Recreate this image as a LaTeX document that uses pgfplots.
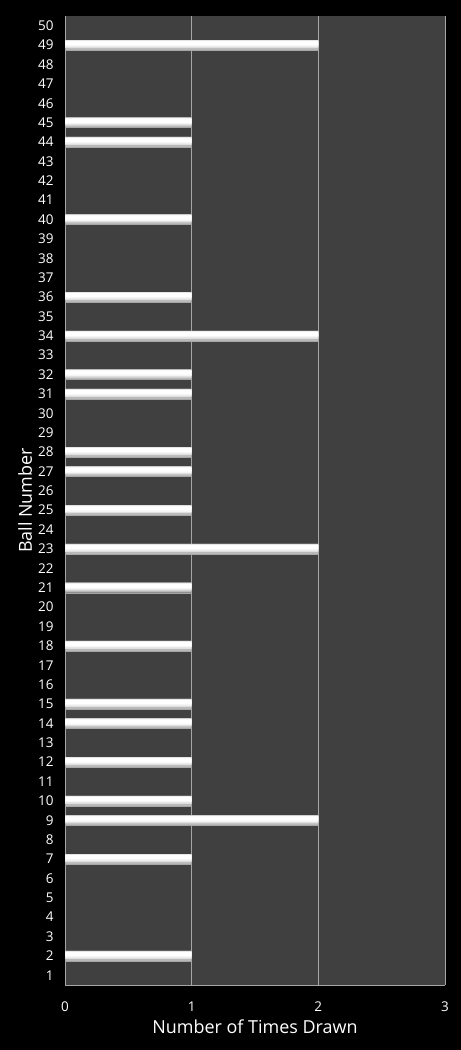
\documentclass[border=0pt]{standalone}
\usepackage{fontspec}
\setmainfont{Open Sans}
\usepackage{pgfplots}
\usepackage{pgfplotstable}
\pgfplotsset{compat=1.18}
\definecolor{plotbg}{RGB}{64,64,64}
\definecolor{gridc}{RGB}{165,165,165}
\pgfplotstableread{
count ball
1 2
1 7
2 9
1 10
1 12
1 14
1 15
1 18
1 21
2 23
1 25
1 27
1 28
1 31
1 32
2 34
1 36
1 40
1 44
1 45
2 49
}\draws
\begin{document}
\begin{tikzpicture}
\fill[black] (0,0) rectangle (461bp,1050bp);
\begin{axis}[
  at={(65bp,65bp)}, anchor=south west,
  scale only axis, width=380bp, height=969bp,
  xbar, bar width=10bp, bar shift=0pt,
  xmin=0, xmax=3, ymin=0.5, ymax=50.5,
  xtick={0,1,2,3}, ytick={1,...,50},
  major tick length=0pt,
  axis background/.style={fill=plotbg},
  axis x line*=bottom, axis y line*=left,
  axis line style={gridc, -},
  xmajorgrids, major grid style={gridc, line width=0.6pt},
  /pgf/number format/assume math mode=true,
  tick label style={font=\fontsize{13.5}{13.5}\selectfont, text=white},
  xticklabel style={yshift=-13bp},
  yticklabel style={xshift=-8bp},
  xlabel={Number of Times Drawn}, ylabel={Ball Number},
  label style={font=\fontsize{18}{18}\selectfont, text=white},
  x label style={at={(axis description cs:0.5,-0.0433)}, anchor=center},
  y label style={at={(axis description cs:-0.105,0.5)}, anchor=center},
]
% layered bars give the glossy look of each bar
\addplot[draw=gray!70, fill=gray!55, bar width=10bp, bar shift=0bp] table[x=count, y=ball] {\draws};
\addplot[draw=none, fill=gray!25, bar width=8bp, bar shift=1bp] table[x=count, y=ball] {\draws};
\addplot[draw=none, fill=gray!8, bar width=6bp, bar shift=1.4bp] table[x=count, y=ball] {\draws};
\addplot[draw=none, fill=white, bar width=4bp, bar shift=1.8bp] table[x=count, y=ball] {\draws};
\end{axis}
\end{tikzpicture}
\end{document}
